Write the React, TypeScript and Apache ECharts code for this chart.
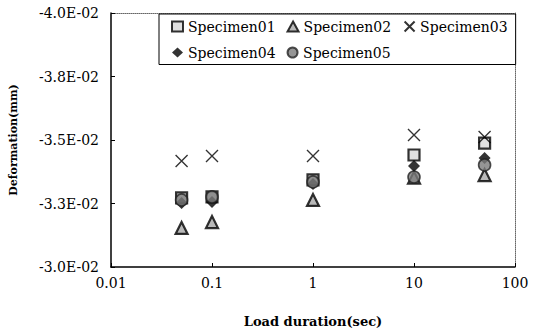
import React, { useEffect, useRef } from "react";
import * as echarts from "echarts";

const durations = [0.05, 0.1, 1, 10, 50];
const seriesNames = ["Specimen01", "Specimen02", "Specimen03", "Specimen04", "Specimen05"];
const specimen01 = [-0.03272, -0.03276, -0.03343, -0.03441, -0.03488];
const specimen02 = [-0.03154, -0.03177, -0.03264, -0.03352, -0.03362];
const specimen03 = [-0.03417, -0.03437, -0.03437, -0.0352, -0.03512];
const specimen04 = [-0.03252, -0.03256, -0.03327, -0.03398, -0.03429];
const specimen05 = [-0.03264, -0.03276, -0.03335, -0.03354, -0.03402];
const yTickValues = [-0.04, -0.0375, -0.035, -0.0325, -0.03];
const yTickLabels = ["-4.0E-02", "-3.8E-02", "-3.5E-02", "-3.3E-02", "-3.0E-02"];
const xTickValues = [0.01, 0.1, 1, 10, 100];
const xTickLabels = ["0.01", "0.1", "1", "10", "100"];

const FONT = "DejaVu Serif";
const crossPath = "path://M0,0 L10,10 M10,0 L0,10";

export default function App() {
  const ref = useRef<HTMLDivElement>(null);
  useEffect(() => {
    if (!ref.current) return;
    const chart = echarts.init(ref.current, null, { renderer: "svg" });
    const allData = [specimen01, specimen02, specimen03, specimen04, specimen05];
    const styles: any[] = [
      { symbol: "rect", symbolSize: 11, itemStyle: { color: "#d8d8d8", borderColor: "#000", borderWidth: 2.2 } },
      { symbol: "triangle", symbolSize: 12, itemStyle: { color: "#a8a8a8", borderColor: "#000", borderWidth: 2.2 } },
      { symbol: crossPath, symbolSize: 12, itemStyle: { color: "none", borderColor: "#000", borderWidth: 1.4 } },
      { symbol: "diamond", symbolSize: 12, itemStyle: { color: "#000", borderColor: "#000", borderWidth: 0 } },
      { symbol: "circle", symbolSize: 12, itemStyle: { color: "#7a7a7a", borderColor: "#222", borderWidth: 1.6 } },
    ];
    const series = seriesNames.map((name, i) => ({
      name,
      type: "scatter",
      xAxisIndex: 0,
      yAxisIndex: 0,
      data: durations.map((d, j) => [d, allData[i][j]]),
      ...styles[i],
    }));
    const findLabel = (v: number, vals: number[], labels: string[]) => {
      for (let k = 0; k < vals.length; k++) {
        if (Math.abs(vals[k] - v) < Math.abs(vals[k]) * 1e-4 + 1e-9) return labels[k];
      }
      return "";
    };
    chart.setOption({
      animation: false,
      backgroundColor: "#fff",
      grid: { left: 110, right: 23, top: 13, bottom: 66, containLabel: false },
      legend: {
        data: seriesNames,
        left: 159,
        top: 14,
        width: 342,
        orient: "horizontal",
        itemWidth: 11,
        itemHeight: 10,
        itemGap: 11,
        padding: [5, 8, 5, 12],
        borderColor: "#000",
        borderWidth: 1,
        backgroundColor: "#fff",
        textStyle: { fontFamily: FONT, fontSize: 14, color: "#000" },
      },
      xAxis: [
        {
          type: "log",
          logBase: 10,
          min: 0.01,
          max: 100,
          position: "bottom",
          name: "Load duration(sec)",
          nameLocation: "middle",
          nameGap: 48,
          nameTextStyle: { fontFamily: FONT, fontSize: 13, fontWeight: "bold", color: "#000" },
          axisLine: { show: true, lineStyle: { color: "#000", width: 1.5 } },
          axisTick: { show: true, inside: true, length: 4, lineStyle: { color: "#000" } },
          minorTick: { show: false },
          splitLine: { show: false },
          axisLabel: {
            margin: 9,
            fontFamily: FONT,
            fontSize: 14,
            color: "#000",
            formatter: (v: number) => findLabel(v, xTickValues, xTickLabels),
          },
        },
        {
          type: "log",
          logBase: 10,
          min: 0.01,
          max: 100,
          position: "top",
          axisLine: { show: true, lineStyle: { color: "#666", width: 1, type: "dotted" } },
          axisTick: { show: false },
          axisLabel: { show: false },
          splitLine: { show: false },
        },
      ],
      yAxis: [
        {
          type: "value",
          inverse: true,
          min: -0.04,
          max: -0.03,
          interval: 0.0025,
          position: "left",
          name: "Deformation(mm)",
          nameLocation: "middle",
          nameGap: 92,
          nameTextStyle: { fontFamily: FONT, fontSize: 11, fontWeight: "bold", color: "#000" },
          axisLine: { show: true, lineStyle: { color: "#000", width: 1.5 } },
          axisTick: { show: true, inside: true, length: 4, lineStyle: { color: "#000" } },
          splitLine: { show: false },
          axisLabel: {
            margin: 12,
            fontFamily: FONT,
            fontSize: 14,
            color: "#000",
            formatter: (v: number) => findLabel(v, yTickValues, yTickLabels),
          },
        },
        {
          type: "value",
          inverse: true,
          min: -0.04,
          max: -0.03,
          interval: 0.0025,
          position: "right",
          axisLine: { show: true, lineStyle: { color: "#666", width: 1, type: "dotted" } },
          axisTick: { show: false },
          axisLabel: { show: false },
          splitLine: { show: false },
        },
      ],
      series,
    });
    return () => chart.dispose();
  }, []);
  return <div ref={ref} style={{ position: "fixed", left: 0, top: 0, width: 538, height: 333 }} />;
}
